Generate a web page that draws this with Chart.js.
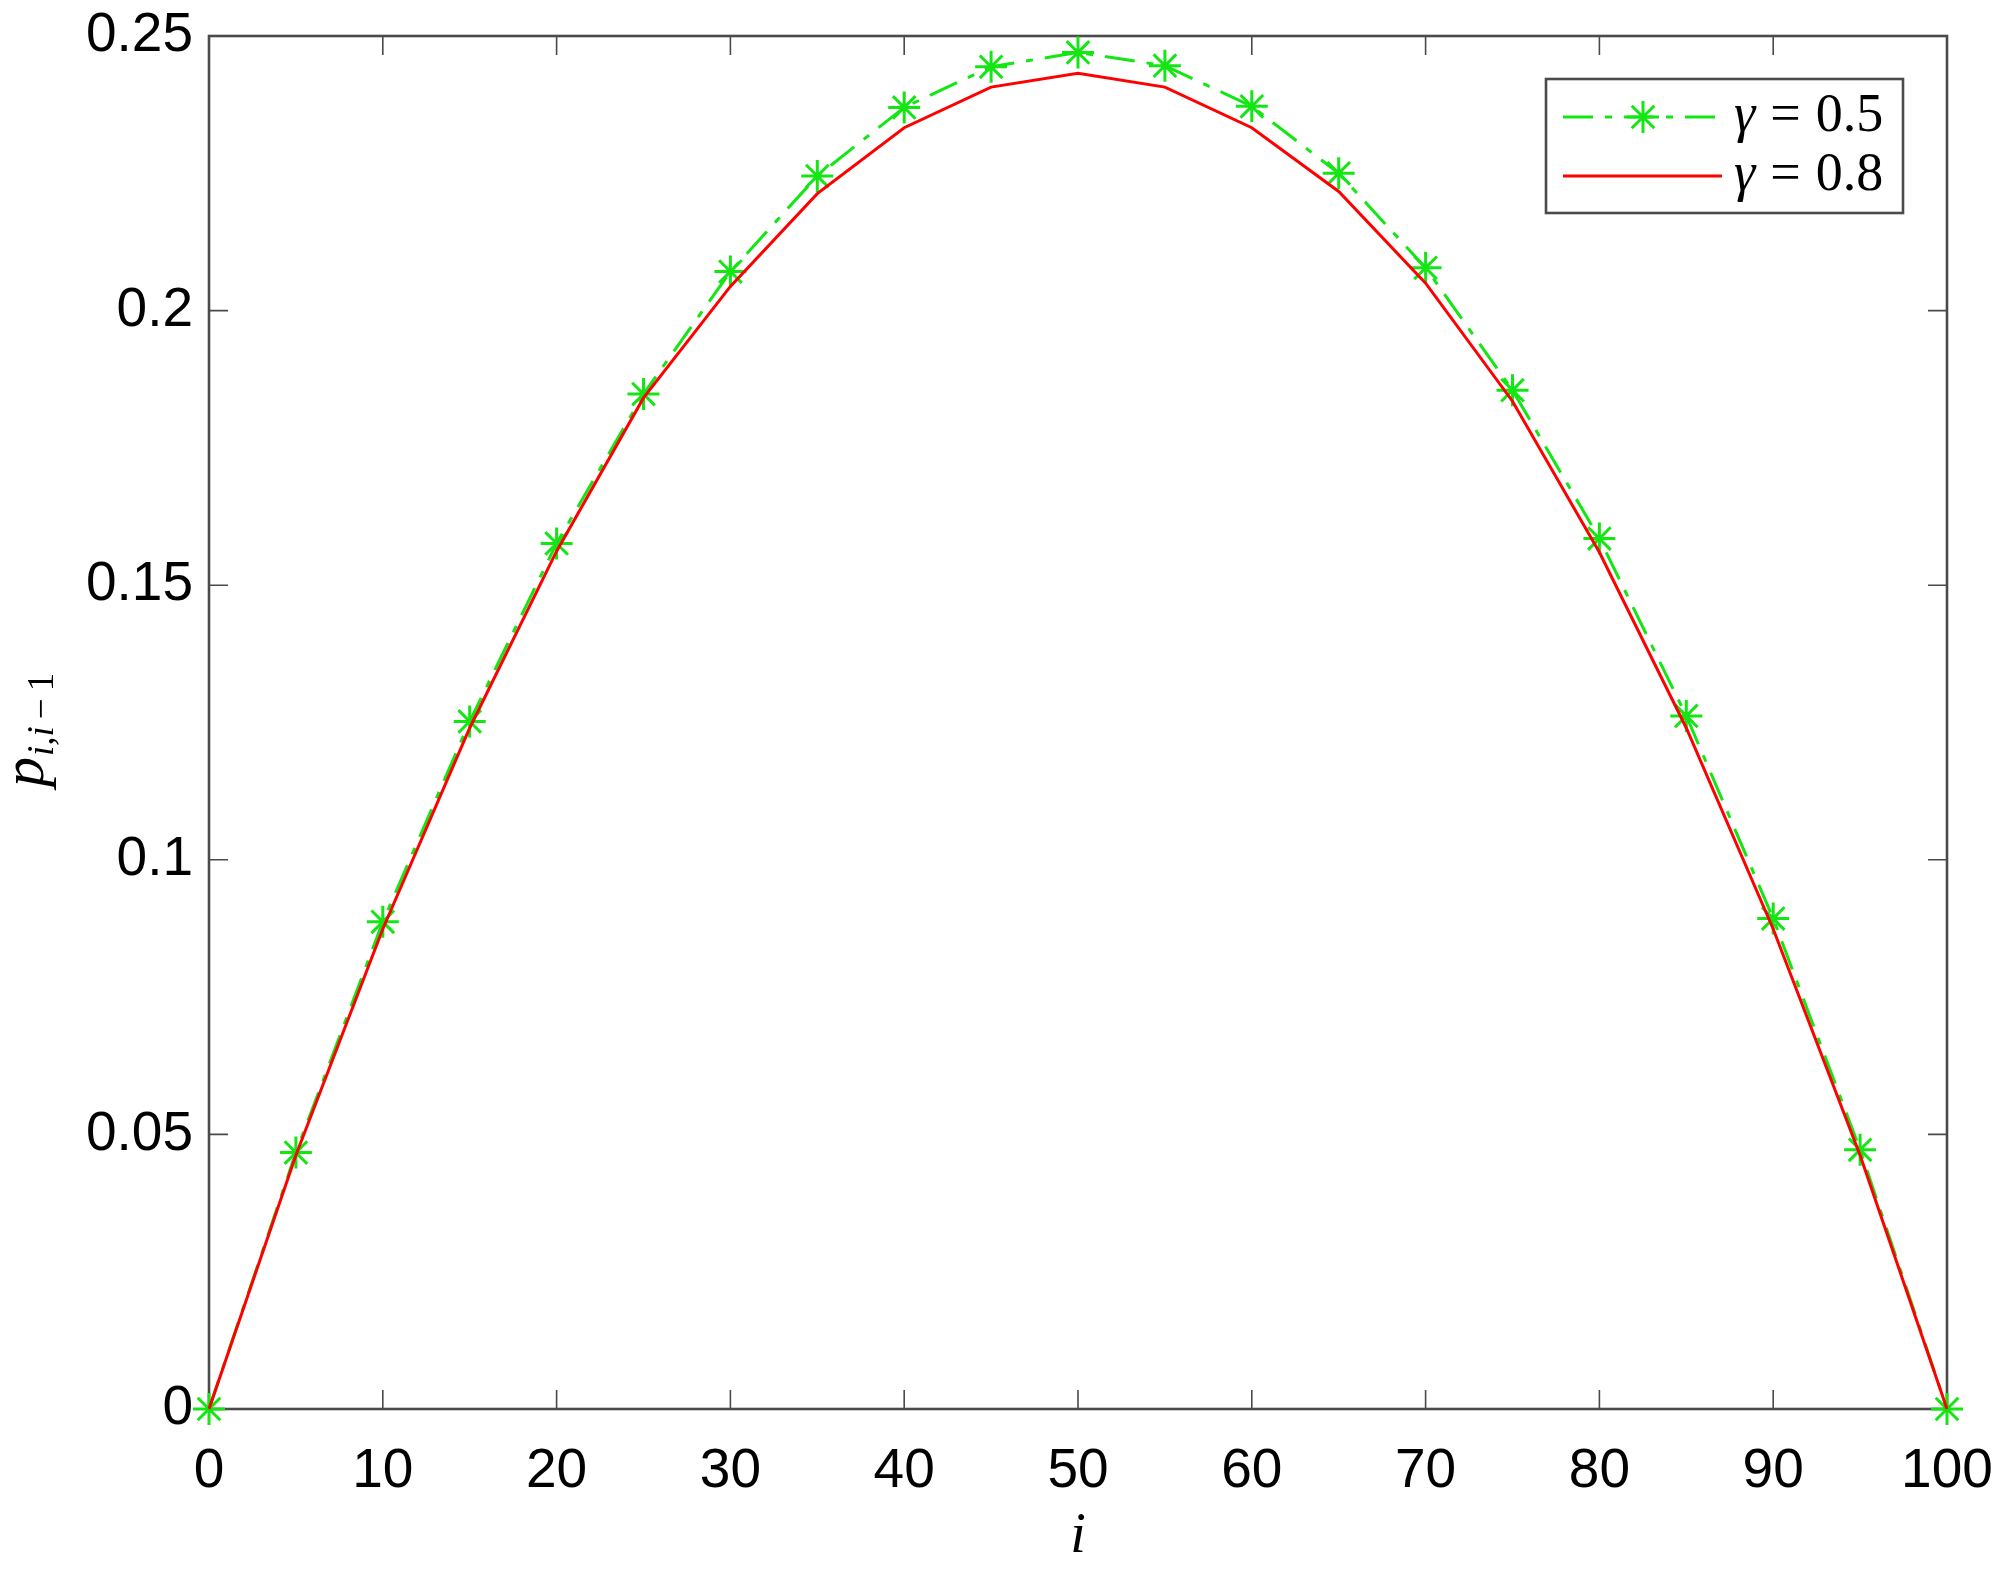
<!DOCTYPE html>
<html>
<head>
<meta charset="utf-8">
<script src="https://cdn.jsdelivr.net/npm/chart.js@4.4.1/dist/chart.umd.min.js"></script>
<style>
  html, body { margin: 0; padding: 0; background: #fff; }
  #wrap { width: 2000px; height: 1575px; }
</style>
</head>
<body>
<div id="wrap"><canvas id="chart" width="2000" height="1575"></canvas></div>
<script>
// data
const iValues = [0, 5, 10, 15, 20, 25, 30, 35, 40, 45, 50, 55, 60, 65, 70, 75, 80, 85, 90, 95, 100];
const pGamma05 = [0, 0.0467, 0.0887, 0.1252, 0.1576, 0.1848, 0.2071, 0.2245, 0.2370, 0.2444, 0.2470,
                  0.2446, 0.2372, 0.2250, 0.2078, 0.1855, 0.1585, 0.1262, 0.0893, 0.0472, 0];
const pGamma08 = [0, 0.0462, 0.0874, 0.1240, 0.1562, 0.1841, 0.2044, 0.2213, 0.2333, 0.2407, 0.2432,
                  0.2407, 0.2333, 0.2217, 0.2050, 0.1835, 0.1560, 0.1240, 0.0874, 0.0462, 0];
const gammaLabels = ['0.5', '0.8'];
const xTicks = [0, 10, 20, 30, 40, 50, 60, 70, 80, 90, 100];
const yTicks = [0, 0.05, 0.1, 0.15, 0.2, 0.25];

const axisColor = '#4a4a4a';
const green = '#14e614';
const red = '#ff0000';
const tickLen = 19;
const sansFont = '"Liberation Sans", Arial, sans-serif';
const serifFont = '"Liberation Serif", "Times New Roman", serif';

const toPoints = ys => iValues.map((x, k) => ({ x: x, y: ys[k] }));

// no extra room for first/last labels, the plot box is fixed
function fixScale(s, size) {
  if (s.isHorizontal()) s.height = size; else s.width = size;
  s.paddingLeft = 0; s.paddingRight = 0; s.paddingTop = 0; s.paddingBottom = 0;
}

// box with inward ticks on all four sides, like matlab
const axesBox = {
  id: 'axesBox',
  beforeDatasetsDraw(chart) {
    const { ctx, chartArea: a, scales: { x, y } } = chart;
    ctx.save();
    ctx.strokeStyle = axisColor;
    ctx.lineWidth = 1.6;
    ctx.beginPath();
    xTicks.forEach(v => {
      const px = x.getPixelForValue(v);
      ctx.moveTo(px, a.bottom); ctx.lineTo(px, a.bottom - tickLen);
      ctx.moveTo(px, a.top); ctx.lineTo(px, a.top + tickLen);
    });
    yTicks.forEach(v => {
      const py = y.getPixelForValue(v);
      ctx.moveTo(a.left, py); ctx.lineTo(a.left + tickLen, py);
      ctx.moveTo(a.right, py); ctx.lineTo(a.right - tickLen, py);
    });
    ctx.stroke();
    ctx.lineWidth = 2.6;
    ctx.strokeRect(a.left, a.top, a.right - a.left, a.bottom - a.top);
    ctx.restore();
  }
};

// axis titles with italic math look
const axisTitles = {
  id: 'axisTitles',
  afterDraw(chart) {
    const { ctx, chartArea: a } = chart;
    ctx.save();
    ctx.fillStyle = '#000';
    ctx.textBaseline = 'alphabetic';
    ctx.textAlign = 'center';
    ctx.font = 'italic 56px ' + serifFont;
    ctx.fillText('i', (a.left + a.right) / 2, 1552);

    // y title: p_{i,i-1}, rotated
    ctx.translate(43, 725);
    ctx.rotate(-Math.PI / 2);
    ctx.textAlign = 'left';
    let xp = -62;
    ctx.font = 'italic 60px ' + serifFont;
    ctx.fillText('p', xp, 0);
    xp += ctx.measureText('p').width + 1;
    ctx.font = 'italic 37px ' + serifFont;
    ctx.fillText('i,i', xp, 10);
    xp += ctx.measureText('i,i').width + 7;
    ctx.font = '37px ' + serifFont;
    ctx.fillText('\u2212', xp, 10);
    xp += ctx.measureText('\u2212').width + 7;
    ctx.fillText('1', xp, 10);
    ctx.restore();
  }
};

// legend drawn in the matlab style (boxed, upper right)
const boxLegend = {
  id: 'boxLegend',
  afterDraw(chart) {
    const ctx = chart.ctx;
    const bx = 1546, by = 79, bw = 357, bh = 134;
    ctx.save();
    ctx.fillStyle = '#fff';
    ctx.fillRect(bx, by, bw, bh);
    ctx.strokeStyle = axisColor;
    ctx.lineWidth = 2.6;
    ctx.strokeRect(bx, by, bw, bh);
    const rows = [117, 176];
    chart.data.datasets.forEach((ds, k) => {
      const ry = rows[k];
      ctx.strokeStyle = ds.borderColor;
      ctx.lineWidth = ds.borderWidth;
      ctx.setLineDash(ds.borderDash || []);
      ctx.beginPath();
      ctx.moveTo(1563, ry);
      ctx.lineTo(1722, ry);
      ctx.stroke();
      ctx.setLineDash([]);
      if (ds.pointRadius > 0) {
        ctx.strokeStyle = ds.pointBorderColor;
        ctx.lineWidth = ds.pointBorderWidth;
        Chart.helpers.drawPoint(ctx, { pointStyle: ds.pointStyle, radius: ds.pointRadius, rotation: 0, borderWidth: ds.pointBorderWidth }, 1643, ry);
      }
      ctx.fillStyle = '#000';
      ctx.textAlign = 'left';
      ctx.textBaseline = 'alphabetic';
      let tx = 1734;
      ctx.font = 'italic 54px ' + serifFont;
      ctx.fillText('\u03b3', tx, ry + 14);
      tx += ctx.measureText('\u03b3').width + 15;
      ctx.font = '54px ' + serifFont;
      ctx.fillText('=', tx, ry + 14);
      tx += ctx.measureText('=').width + 15;
      ctx.fillText(ds.label, tx, ry + 14);
    });
    ctx.restore();
  }
};

new Chart(document.getElementById('chart'), {
  type: 'line',
  data: {
    datasets: [
      {
        label: gammaLabels[0],
        data: toPoints(pGamma05),
        borderColor: green,
        borderWidth: 3,
        borderDash: [30, 12, 7, 12],
        pointStyle: 'star',
        pointRadius: 16,
        pointBorderColor: green,
        pointBackgroundColor: green,
        pointBorderWidth: 3,
        tension: 0,
        fill: false,
        clip: false,
        order: 1
      },
      {
        label: gammaLabels[1],
        data: toPoints(pGamma08),
        borderColor: red,
        borderWidth: 3,
        pointRadius: 0,
        tension: 0,
        fill: false,
        clip: false,
        order: 0
      }
    ]
  },
  options: {
    responsive: false,
    animation: false,
    devicePixelRatio: 1,
    layout: { padding: { left: 0, top: 36, right: 53, bottom: 0 } },
    plugins: { legend: { display: false }, tooltip: { enabled: false } },
    scales: {
      x: {
        type: 'linear',
        min: 0,
        max: 100,
        afterFit: s => fixScale(s, 166),
        afterBuildTicks: s => { s.ticks = xTicks.map(v => ({ value: v })); },
        grid: { display: false },
        border: { display: false },
        ticks: {
          color: '#000',
          font: { family: sansFont, size: 55 },
          padding: 22,
          maxRotation: 0,
          autoSkip: false
        }
      },
      y: {
        type: 'linear',
        min: 0,
        max: 0.25,
        afterFit: s => fixScale(s, 209),
        afterBuildTicks: s => { s.ticks = yTicks.map(v => ({ value: v })); },
        grid: { display: false },
        border: { display: false },
        ticks: {
          color: '#000',
          font: { family: sansFont, size: 55 },
          padding: 8,
          autoSkip: false,
          callback: v => String(+v.toFixed(4))
        }
      }
    }
  },
  plugins: [axesBox, axisTitles, boxLegend]
});
</script>
</body>
</html>
